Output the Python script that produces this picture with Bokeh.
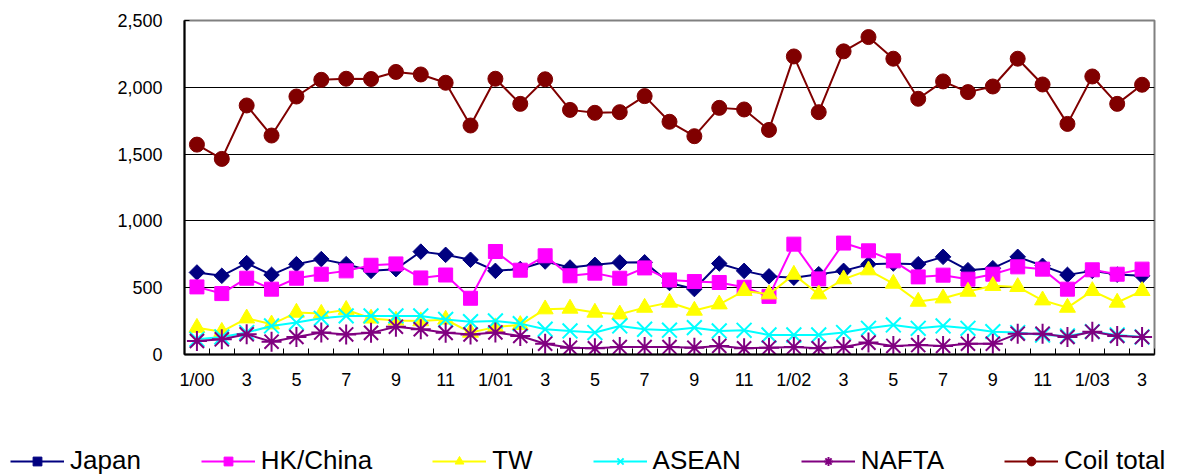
import math
from bokeh.plotting import figure
from bokeh.layouts import column
from bokeh.models import FixedTicker, NumeralTickFormatter, Legend, LegendItem, Range1d
from bokeh.embed import file_html
from bokeh.resources import INLINE

months = ["1/00"] + [str(m) for m in range(2, 13)] + ["1/01"] + [str(m) for m in range(2, 13)] + \
         ["1/02"] + [str(m) for m in range(2, 13)] + ["1/03", "2", "3"]

japan = [614, 589, 684, 596, 676, 714, 676, 626, 639, 770, 746, 709, 626, 640, 696, 651, 671, 689, 690, 535,
         490, 681, 626, 585, 575, 601, 626, 676, 681, 676, 731, 631, 646, 731, 664, 596, 626, 598, 589]
hk_china = [506, 456, 571, 489, 571, 601, 626, 668, 678, 573, 595, 421, 771, 631, 739, 589, 609, 571, 648, 558,
            546, 539, 503, 435, 826, 566, 834, 776, 701, 581, 594, 564, 601, 656, 639, 489, 634, 601, 639]
tw = [201, 171, 271, 226, 314, 306, 335, 270, 255, 250, 262, 164, 205, 222, 339, 344, 314, 301, 351, 389,
      329, 376, 476, 451, 598, 451, 564, 631, 531, 396, 421, 471, 514, 506, 406, 351, 476, 389, 476]
asean = [114, 131, 164, 214, 239, 271, 289, 289, 289, 289, 262, 246, 251, 231, 189, 176, 164, 214, 189, 182,
         201, 176, 181, 146, 146, 146, 164, 196, 221, 196, 214, 196, 171, 164, 146, 139, 171, 146, 131]
nafta = [101, 114, 151, 96, 131, 164, 150, 162, 208, 189, 162, 150, 165, 139, 81, 51, 46, 56, 56, 56,
         51, 64, 46, 51, 56, 46, 56, 89, 64, 71, 64, 81, 81, 156, 156, 131, 171, 139, 131]
coil_total = [1571, 1464, 1864, 1639, 1931, 2056, 2064, 2062, 2115, 2096, 2034, 1714, 2064, 1876, 2060, 1831,
              1809, 1814, 1934, 1742, 1634, 1846, 1834, 1681, 2231, 1814, 2269, 2376, 2214, 1914, 2044, 1964,
              2006, 2214, 2021, 1726, 2081, 1876, 2019]

series_names = ["Japan", "HK/China", "TW", "ASEAN", "NAFTA", "Coil total"]
y_ticks = [0, 500, 1000, 1500, 2000, 2500]

xs = list(range(len(months)))

W = 1176
p = figure(width=W, height=392, output_backend="svg", toolbar_location=None,
           x_range=Range1d(-0.5, len(months) - 0.5), y_range=Range1d(0, 2500),
           min_border_left=184, min_border_right=W - 1154, min_border_top=20, min_border_bottom=38)
p.frame_align = False

p.outline_line_color = "#808080"
p.outline_line_width = 2
p.background_fill_color = "white"
p.border_fill_color = "white"

p.xgrid.grid_line_color = None
p.ygrid.grid_line_color = "black"
p.ygrid.grid_line_width = 1
p.ygrid.ticker = FixedTicker(ticks=y_ticks)

p.yaxis.ticker = FixedTicker(ticks=y_ticks)
p.yaxis.formatter = NumeralTickFormatter(format="0,0")
p.yaxis.axis_line_color = "black"
p.yaxis.axis_line_width = 2
p.yaxis.major_tick_in = 5
p.yaxis.major_tick_out = 0
p.yaxis.minor_tick_line_color = None
p.yaxis.major_label_standoff = 22
p.yaxis.major_label_text_font = "Liberation Sans"
p.yaxis.major_label_text_font_size = "18px"
p.yaxis.major_label_text_color = "black"

label_idx = list(range(0, len(months), 2))
p.xaxis.ticker = FixedTicker(ticks=label_idx, minor_ticks=[i - 0.5 for i in range(len(months) + 1)])
p.xaxis.major_label_overrides = {i: months[i] for i in label_idx}
p.xaxis.axis_line_color = "black"
p.xaxis.axis_line_width = 2
p.xaxis.major_tick_line_color = None
p.xaxis.minor_tick_in = 6
p.xaxis.minor_tick_out = 0
p.xaxis.minor_tick_line_color = "black"
p.xaxis.minor_tick_line_width = 1
p.xaxis.major_label_standoff = 9
p.xaxis.major_label_text_font = "Liberation Sans"
p.xaxis.major_label_text_font_size = "18px"
p.xaxis.major_label_text_color = "black"

styles = [
    (japan, "#000080", "square", 11, math.pi / 4),
    (hk_china, "#FF00FF", "square", 14, 0),
    (tw, "#FFFF00", "triangle", 16, 0),
    (asean, "#00FFFF", "x", 21, 0),
    (nafta, "#800080", "asterisk", 20, 0),
    (coil_total, "#800000", "circle", 15, 0),
]

# legend strip: same series drawn outside its visible range, only the legend shows
lf = figure(width=W, height=84, output_backend="svg", toolbar_location=None,
            x_range=Range1d(-0.5, len(months) - 0.5), y_range=Range1d(-2, -1),
            min_border=0, x_axis_location=None, y_axis_location=None)
lf.frame_align = False
lf.outline_line_color = None
lf.grid.visible = False
lf.background_fill_color = "white"
lf.border_fill_color = "white"


def draw(fig, vals, color, marker, size, ang):
    ln = fig.line(xs, vals, line_color=color, line_width=2)
    if marker in ("x", "asterisk"):
        sc = fig.scatter(xs, vals, marker=marker, size=size, line_color=color, line_width=2, fill_color=None)
    else:
        sc = fig.scatter(xs, vals, marker=marker, size=size, angle=ang, line_color=color,
                         fill_color=color, line_width=1)
    return ln, sc


items = []
for name, (vals, color, marker, size, ang) in zip(series_names, styles):
    draw(p, vals, color, marker, size, ang)
    ln, sc = draw(lf, vals, color, marker, size, ang)
    items.append(LegendItem(label=name, renderers=[ln, sc]))

legend = Legend(items=items, orientation="horizontal", location=(10, 0),
                glyph_width=54, glyph_height=22, label_standoff=6, spacing=60,
                label_text_font="Liberation Sans", label_text_font_size="26px",
                label_text_color="black", padding=0, margin=0,
                border_line_color=None, background_fill_alpha=0)
lf.add_layout(legend, "center")

layout = column(p, lf, spacing=0)

open("out.html", "w").write(file_html(layout, INLINE))
